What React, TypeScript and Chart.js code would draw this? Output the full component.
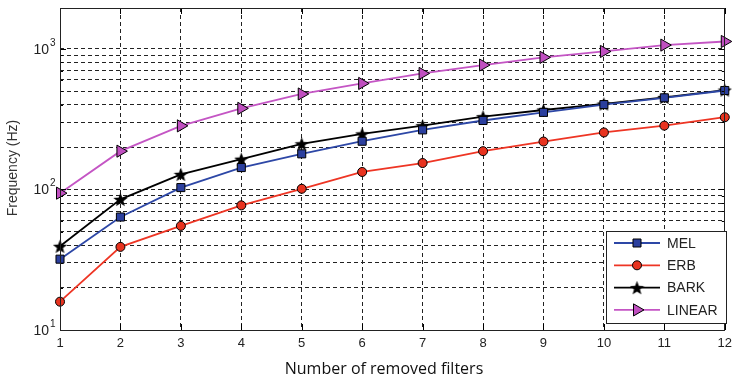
import React, { useEffect, useRef } from 'react';
import { Chart, registerables } from 'chart.js';

Chart.register(...registerables);

const xValues = [1, 2, 3, 4, 5, 6, 7, 8, 9, 10, 11, 12];
const melValues = [31.9, 63.6, 103, 143, 179, 220, 265, 309, 353, 401, 448, 505];
const erbValues = [15.9, 39, 55, 77, 101, 133, 154, 187, 219, 254, 284, 326];
const barkValues = [39.4, 85, 128, 164, 211, 248, 284, 329, 367, 405, 451, 509];
const linearValues = [94, 187, 283, 377, 477, 567, 668, 766, 869, 957, 1062, 1127];
const seriesNames = ['MEL', 'ERB', 'BARK', 'LINEAR'];
const yGridValues = [10, 20, 30, 40, 50, 60, 70, 80, 90, 100, 200, 300, 400, 500, 600, 700, 800, 900, 1000];
const yMajorValues = [10, 100, 1000];
const yMajorExponents = ['1', '2', '3'];
const yMin = 10;
const yMax = 1950;
const xTitle = 'Number of removed filters';
const yTitle = 'Frequency (Hz)';

const colors = ['#2d47a6', '#ee3524', '#000000', '#c455c4'];
const fills = ['#2b3f9e', '#e8331f', '#000000', '#c04fc0'];

function makeStar(size: number, color: string) {
  const c = document.createElement('canvas');
  c.width = size;
  c.height = size;
  const g = c.getContext('2d')!;
  const cx = size / 2, cy = size / 2;
  const ro = size / 2, ri = ro * 0.42;
  g.beginPath();
  for (let i = 0; i < 10; i++) {
    const r = i % 2 === 0 ? ro : ri;
    const a = -Math.PI / 2 + (i * Math.PI) / 5;
    const px = cx + r * Math.cos(a), py = cy + r * Math.sin(a) + 0.8;
    if (i === 0) g.moveTo(px, py); else g.lineTo(px, py);
  }
  g.closePath();
  g.fillStyle = color;
  g.fill();
  return c;
}

function drawMarker(ctx: CanvasRenderingContext2D, kind: number, x: number, y: number, star: HTMLCanvasElement) {
  ctx.save();
  ctx.lineWidth = 1;
  ctx.strokeStyle = '#000';
  ctx.fillStyle = fills[kind];
  ctx.beginPath();
  if (kind === 0) {
    ctx.rect(x - 4, y - 4, 8, 8);
    ctx.fill(); ctx.stroke();
  } else if (kind === 1) {
    ctx.arc(x, y, 4.5, 0, Math.PI * 2);
    ctx.fill(); ctx.stroke();
  } else if (kind === 2) {
    ctx.drawImage(star, x - star.width / 2, y - star.height / 2);
  } else {
    const r = 7;
    ctx.moveTo(x + r, y);
    ctx.lineTo(x - r / 2, y - r * 0.866);
    ctx.lineTo(x - r / 2, y + r * 0.866);
    ctx.closePath();
    ctx.fill(); ctx.stroke();
  }
  ctx.restore();
}

export default function App() {
  const ref = useRef<HTMLCanvasElement>(null);

  useEffect(() => {
    const canvas = ref.current!;
    const star = makeStar(15, '#000');
    const seriesValues = [melValues, erbValues, barkValues, linearValues];

    const framePlugin = {
      id: 'framePlugin',
      afterDraw(chart: any) {
        const ctx: CanvasRenderingContext2D = chart.ctx;
        const { left, top, right, bottom } = chart.chartArea;
        const xs = chart.scales.x;
        const ys = chart.scales.y;
        ctx.save();
        ctx.setLineDash([]);
        ctx.strokeStyle = '#000';
        ctx.lineWidth = 1;
        ctx.beginPath();
        xValues.forEach((v) => {
          const px = Math.round(xs.getPixelForValue(v)) + 0.5;
          ctx.moveTo(px, bottom); ctx.lineTo(px, bottom - 6);
          ctx.moveTo(px, top); ctx.lineTo(px, top + 6);
        });
        yGridValues.forEach((v) => {
          const py = Math.round(ys.getPixelForValue(v)) + 0.5;
          const len = yMajorValues.includes(v) ? 6 : 3;
          ctx.moveTo(left, py); ctx.lineTo(left + len, py);
          ctx.moveTo(right, py); ctx.lineTo(right - len, py);
        });
        ctx.stroke();
        ctx.strokeStyle = '#222';
        ctx.strokeRect(Math.round(left) + 0.5, Math.round(top) + 0.5, Math.round(right - left) - 1, Math.round(bottom - top));

        // y tick labels with exponents
        ctx.fillStyle = '#222';
        yMajorValues.forEach((v, i) => {
          const py = ys.getPixelForValue(v);
          ctx.font = '14px "Liberation Sans", Arial, sans-serif';
          ctx.textAlign = 'right';
          ctx.textBaseline = 'middle';
          ctx.fillText('10', left - 11, py + 1);
          ctx.font = '10px "Liberation Sans", Arial, sans-serif';
          ctx.textAlign = 'left';
          ctx.fillText(yMajorExponents[i], left - 10, py - 6);
        });

        // axis titles
        ctx.fillStyle = '#333';
        ctx.font = '14px "Liberation Sans", Arial, sans-serif';
        ctx.textAlign = 'center';
        ctx.textBaseline = 'middle';
        ctx.save();
        ctx.translate(13, 168);
        ctx.rotate(-Math.PI / 2);
        ctx.fillText(yTitle, 0, 0);
        ctx.restore();
        ctx.fillStyle = '#111';
        ctx.font = '16px "Open Sans", sans-serif';
        ctx.fillText(xTitle, 384, 369);

        // legend
        const bx = 606, by = 231, bw = 120, bh = 92;
        ctx.fillStyle = '#fff';
        ctx.fillRect(bx, by, bw, bh);
        ctx.strokeStyle = '#222';
        ctx.lineWidth = 1;
        ctx.strokeRect(bx + 0.5, by + 0.5, bw, bh);
        seriesNames.forEach((name, i) => {
          const ry = by + 12 + i * 22.3;
          ctx.strokeStyle = colors[i];
          ctx.lineWidth = 1.8;
          ctx.beginPath();
          ctx.moveTo(614, ry); ctx.lineTo(660, ry);
          ctx.stroke();
          drawMarker(ctx, i, 637, ry, star);
          ctx.fillStyle = '#222';
          ctx.font = '14px "Liberation Sans", Arial, sans-serif';
          ctx.textAlign = 'left';
          ctx.textBaseline = 'middle';
          ctx.fillText(name, 667, ry + 1);
        });
        ctx.restore();
      },
    };

    const pointStyles: any[] = ['rect', 'circle', star, 'triangle'];
    const radii = [5.7, 4.5, 7, 7];
    const rotations = [0, 0, 0, 90];

    const chart = new Chart(canvas, {
      type: 'line',
      data: {
        datasets: seriesNames.map((name, i) => ({
          label: name,
          data: xValues.map((x, j) => ({ x, y: seriesValues[i][j] })),
          borderColor: colors[i],
          backgroundColor: fills[i],
          borderWidth: 1.8,
          pointStyle: pointStyles[i],
          pointRadius: radii[i],
          pointRotation: rotations[i],
          pointBackgroundColor: fills[i],
          pointBorderColor: '#000',
          pointBorderWidth: 1,
          tension: 0,
          clip: false as any,
        })),
      },
      options: {
        animation: false,
        responsive: false,
        maintainAspectRatio: false,
        layout: { padding: { top: 7, right: 7, left: 0, bottom: 0 } },
        plugins: { legend: { display: false }, tooltip: { enabled: false } },
        scales: {
          x: {
            type: 'linear',
            min: 1,
            max: 12,
            afterBuildTicks: (s: any) => {
              s.ticks = xValues.map((v) => ({ value: v }));
            },
            afterFit: (s: any) => {
              s.height = 48;
            },
            ticks: {
              autoSkip: false,
              maxRotation: 0,
              padding: 6,
              color: '#222',
              font: { family: '"Liberation Sans", Arial, sans-serif', size: 13 },
              callback: (v: any) => String(v),
            },
            grid: { color: '#222', lineWidth: 1, drawTicks: false },
            border: { display: false, dash: [4, 3] },
          },
          y: {
            type: 'logarithmic',
            min: yMin,
            max: yMax,
            afterBuildTicks: (s: any) => {
              s.ticks = yGridValues.map((v) => ({ value: v, major: yMajorValues.includes(v) }));
            },
            afterFit: (s: any) => {
              s.width = 60;
            },
            ticks: { display: false, autoSkip: false },
            grid: { color: '#222', lineWidth: 1, drawTicks: false },
            border: { display: false, dash: [4, 3] },
          },
        },
      },
      plugins: [framePlugin],
    } as any);

    return () => chart.destroy();
  }, []);

  return (
    <div style={{ position: 'fixed', left: 0, top: 0, width: 738, height: 378, background: '#fff' }}>
      <canvas ref={ref} width={738} height={378} style={{ display: 'block' }} />
    </div>
  );
}
